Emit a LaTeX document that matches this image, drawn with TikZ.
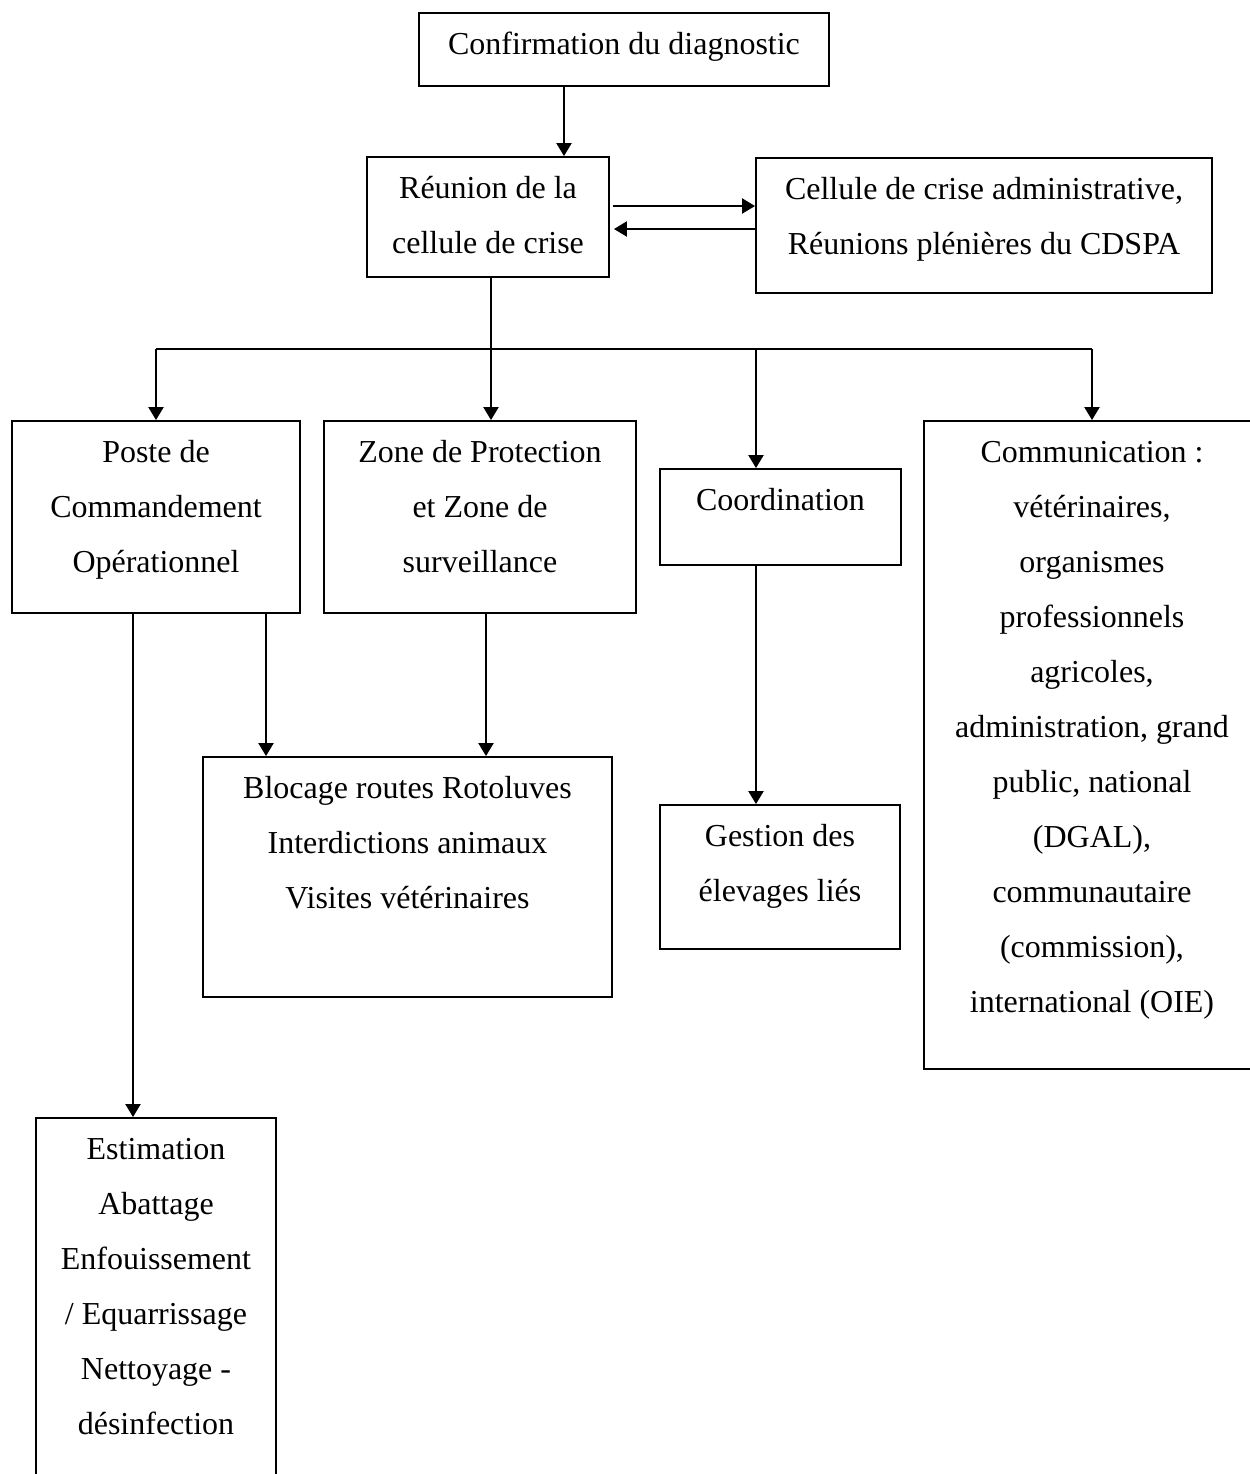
\documentclass[tikz,border=0pt]{standalone}
\usepackage{fontspec}
\setmainfont{Liberation Serif}
\usetikzlibrary{arrows.meta,positioning}

\begin{document}
\begin{tikzpicture}[
    box/.style={draw, line width=0.55pt, inner sep=0pt},
    txt/.style={inner sep=0pt, align=center,
      font=\fontsize{9.1}{15.65}\selectfont},
    arr/.style={line width=0.55pt, -{Triangle[length=3.7pt,width=4.3pt]}},
    ln/.style={line width=0.55pt}
  ]
  \useasboundingbox (0,0) rectangle (12.5,-14.74);
  \clip (0,0) rectangle (12.5,-14.74);

  % boxes
  \node[box, minimum width=4.10cm, minimum height=0.73cm] (conf) at (6.24,-0.495) {};
  \node[box, minimum width=2.42cm, minimum height=1.20cm] (reun) at (4.88,-2.17) {};
  \node[box, minimum width=4.56cm, minimum height=1.35cm] (cell) at (9.84,-2.255) {};
  \node[box, minimum width=2.88cm, minimum height=1.92cm] (pco) at (1.56,-5.17) {};
  \node[box, minimum width=3.12cm, minimum height=1.92cm] (zone) at (4.80,-5.17) {};
  \node[box, minimum width=2.41cm, minimum height=0.96cm] (coord) at (7.805,-5.17) {};
  \node[box, minimum width=3.36cm, minimum height=6.48cm] (comm) at (10.92,-7.45) {};
  \node[box, minimum width=4.09cm, minimum height=2.40cm] (blk) at (4.075,-8.77) {};
  \node[box, minimum width=2.40cm, minimum height=1.44cm] (gest) at (7.80,-8.77) {};
  \node[box, minimum width=2.40cm, minimum height=3.82cm] (est) at (1.56,-13.09) {};

  % texts (first baseline 0.4cm under the top edge)
  \node[txt, below=0.03cm of conf.north] (conf-t) {\strut Confirmation du diagnostic};
  \node[txt, below=0.03cm of reun.north] (reun-t) {\strut Réunion de la\\cellule de crise};
  \node[txt, below=0.03cm of cell.north] (cell-t)
    {\strut Cellule de crise administrative,\\Réunions plénières du CDSPA};
  \node[txt, below=0.03cm of pco.north] (pco-t) {\strut Poste de\\Commandement\\Opérationnel};
  \node[txt, below=0.03cm of zone.north] (zone-t) {\strut Zone de Protection\\et Zone de\\surveillance};
  \node[txt, below=0.03cm of coord.north] (coord-t) {\strut Coordination};
  \node[txt, below=0.03cm of comm.north] (comm-t)
    {\strut Communication :\\vétérinaires,\\organismes\\professionnels\\agricoles,\\administration, grand\\public, national\\(DGAL),\\communautaire\\(commission),\\international (OIE)};
  \node[txt, below=0.03cm of blk.north] (blk-t)
    {\strut Blocage routes Rotoluves\\Interdictions animaux\\Visites vétérinaires};
  \node[txt, below=0.03cm of gest.north] (gest-t) {\strut Gestion des\\élevages liés};
  \node[txt, below=0.03cm of est.north] (est-t)
    {\strut Estimation\\Abattage\\Enfouissement\\/ Equarrissage\\Nettoyage -\\désinfection};

  % top links
  \draw[arr] ([xshift=-0.60cm]conf.south) -- ([xshift=-0.60cm]conf.south |- reun.north);
  \coordinate (r1) at ([shift={(0.03,0.11)}]reun.east);
  \coordinate (r2) at ([shift={(0.04,-0.12)}]reun.east);
  \draw[arr] (r1) -- (r1 -| cell.west);
  \draw[arr] (r2 -| cell.west) -- (r2);

  % distribution line
  \coordinate (bus) at (4.91,-3.49);
  \coordinate (k) at ([xshift=-0.245cm]coord.north);
  \draw[ln] (reun.south -| bus) -- (bus);
  \draw[ln] (pco.north |- bus) -- (comm.north |- bus);
  \draw[arr] (pco.north |- bus) -- (pco.north);
  \draw[arr] (bus) -- (bus |- zone.north);
  \draw[arr] (k |- bus) -- (k);
  \draw[arr] (comm.north |- bus) -- (comm.north);

  % lower links
  \draw[arr] ([xshift=-0.23cm]pco.south) -- ([xshift=-0.23cm]pco.south |- est.north);
  \draw[arr] ([xshift=1.10cm]pco.south) -- ([xshift=1.10cm]pco.south |- blk.north);
  \draw[arr] ([xshift=0.06cm]zone.south) -- ([xshift=0.06cm]zone.south |- blk.north);
  \draw[arr] (k |- coord.south) -- (k |- gest.north);
\end{tikzpicture}
\end{document}
